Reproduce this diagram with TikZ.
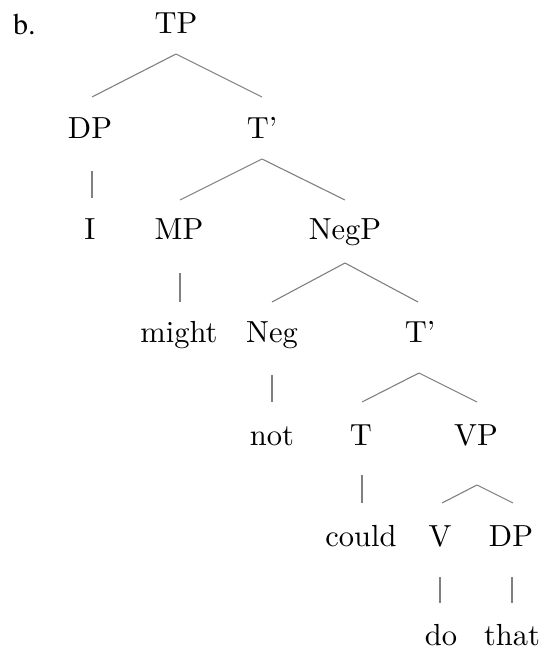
\documentclass[tikz,border=0pt]{standalone}
\usepackage{fontspec}
\setmainfont{lmroman10-regular}[Extension=.otf]
\newfontfamily\timesfont{texgyretermes-regular}[Extension=.otf]
\begin{document}
\begin{tikzpicture}[x=1pt,y=-1pt,
  lbl/.style={anchor=base,inner sep=0pt,font=\fontsize{30.5}{36}\selectfont},
  lbltimes/.style={anchor=base west,inner sep=0pt,font=\timesfont\fontsize{30}{36}\selectfont},
  branch/.style={draw=black!50,line width=1.1pt}]
\useasboundingbox (0,0) rectangle (545,651);
% labels
\node[lbltimes] (b) at (13,34) {b.};
\node[lbl] (tp) at (176,33) {TP};
\node[lbl] (dp1) at (90,138) {DP};
\node[lbl] (tbar1) at (262,138) {T'};
\node[lbl] (i) at (90,239) {I};
\node[lbl] (mp) at (179,239) {MP};
\node[lbl] (negp) at (345,239) {NegP};
\node[lbl] (might) at (179,342) {might};
\node[lbl] (neg) at (272,342) {Neg};
\node[lbl] (tbar2) at (420,342) {T'};
\node[lbl] (not) at (272,445) {not};
\node[lbl] (t) at (361,445) {T};
\node[lbl] (vp) at (476,445) {VP};
\node[lbl] (could) at (361,546) {could};
\node[lbl] (v) at (440,546) {V};
\node[lbl] (dp2) at (511,546) {DP};
\node[lbl] (do) at (441,645) {do};
\node[lbl] (that) at (512,645) {that};
% branches
\draw[branch] ([shift={(0,21)}]tp.base) -- ([shift={(2,-41)}]dp1.base);
\draw[branch] ([shift={(0,21)}]tp.base) -- ([shift={(0,-41)}]tbar1.base);
\draw[branch] ([shift={(2,33)}]dp1.base) -- ([shift={(2,-41)}]i.base);
\draw[branch] ([shift={(0,21)}]tbar1.base) -- ([shift={(1,-39)}]mp.base);
\draw[branch] ([shift={(0,21)}]tbar1.base) -- ([shift={(0,-39)}]negp.base);
\draw[branch] ([shift={(1,34)}]mp.base) -- ([shift={(1,-40)}]might.base);
\draw[branch] ([shift={(0,24)}]negp.base) -- ([shift={(0,-40)}]neg.base);
\draw[branch] ([shift={(0,24)}]negp.base) -- ([shift={(-2,-40)}]tbar2.base);
\draw[branch] ([shift={(0,33)}]neg.base) -- ([shift={(0,-43)}]not.base);
\draw[branch] ([shift={(-1,31)}]tbar2.base) -- ([shift={(1,-43)}]t.base);
\draw[branch] ([shift={(-1,31)}]tbar2.base) -- ([shift={(1,-43)}]vp.base);
\draw[branch] ([shift={(1,30)}]t.base) -- ([shift={(1,-43)}]could.base);
\draw[branch] ([shift={(1,40)}]vp.base) -- ([shift={(2,-43)}]v.base);
\draw[branch] ([shift={(1,40)}]vp.base) -- ([shift={(2,-43)}]dp2.base);
\draw[branch] ([shift={(0,31)}]v.base) -- ([shift={(-1,-42)}]do.base);
\draw[branch] ([shift={(1,31)}]dp2.base) -- ([shift={(0,-42)}]that.base);
\end{tikzpicture}
\end{document}
